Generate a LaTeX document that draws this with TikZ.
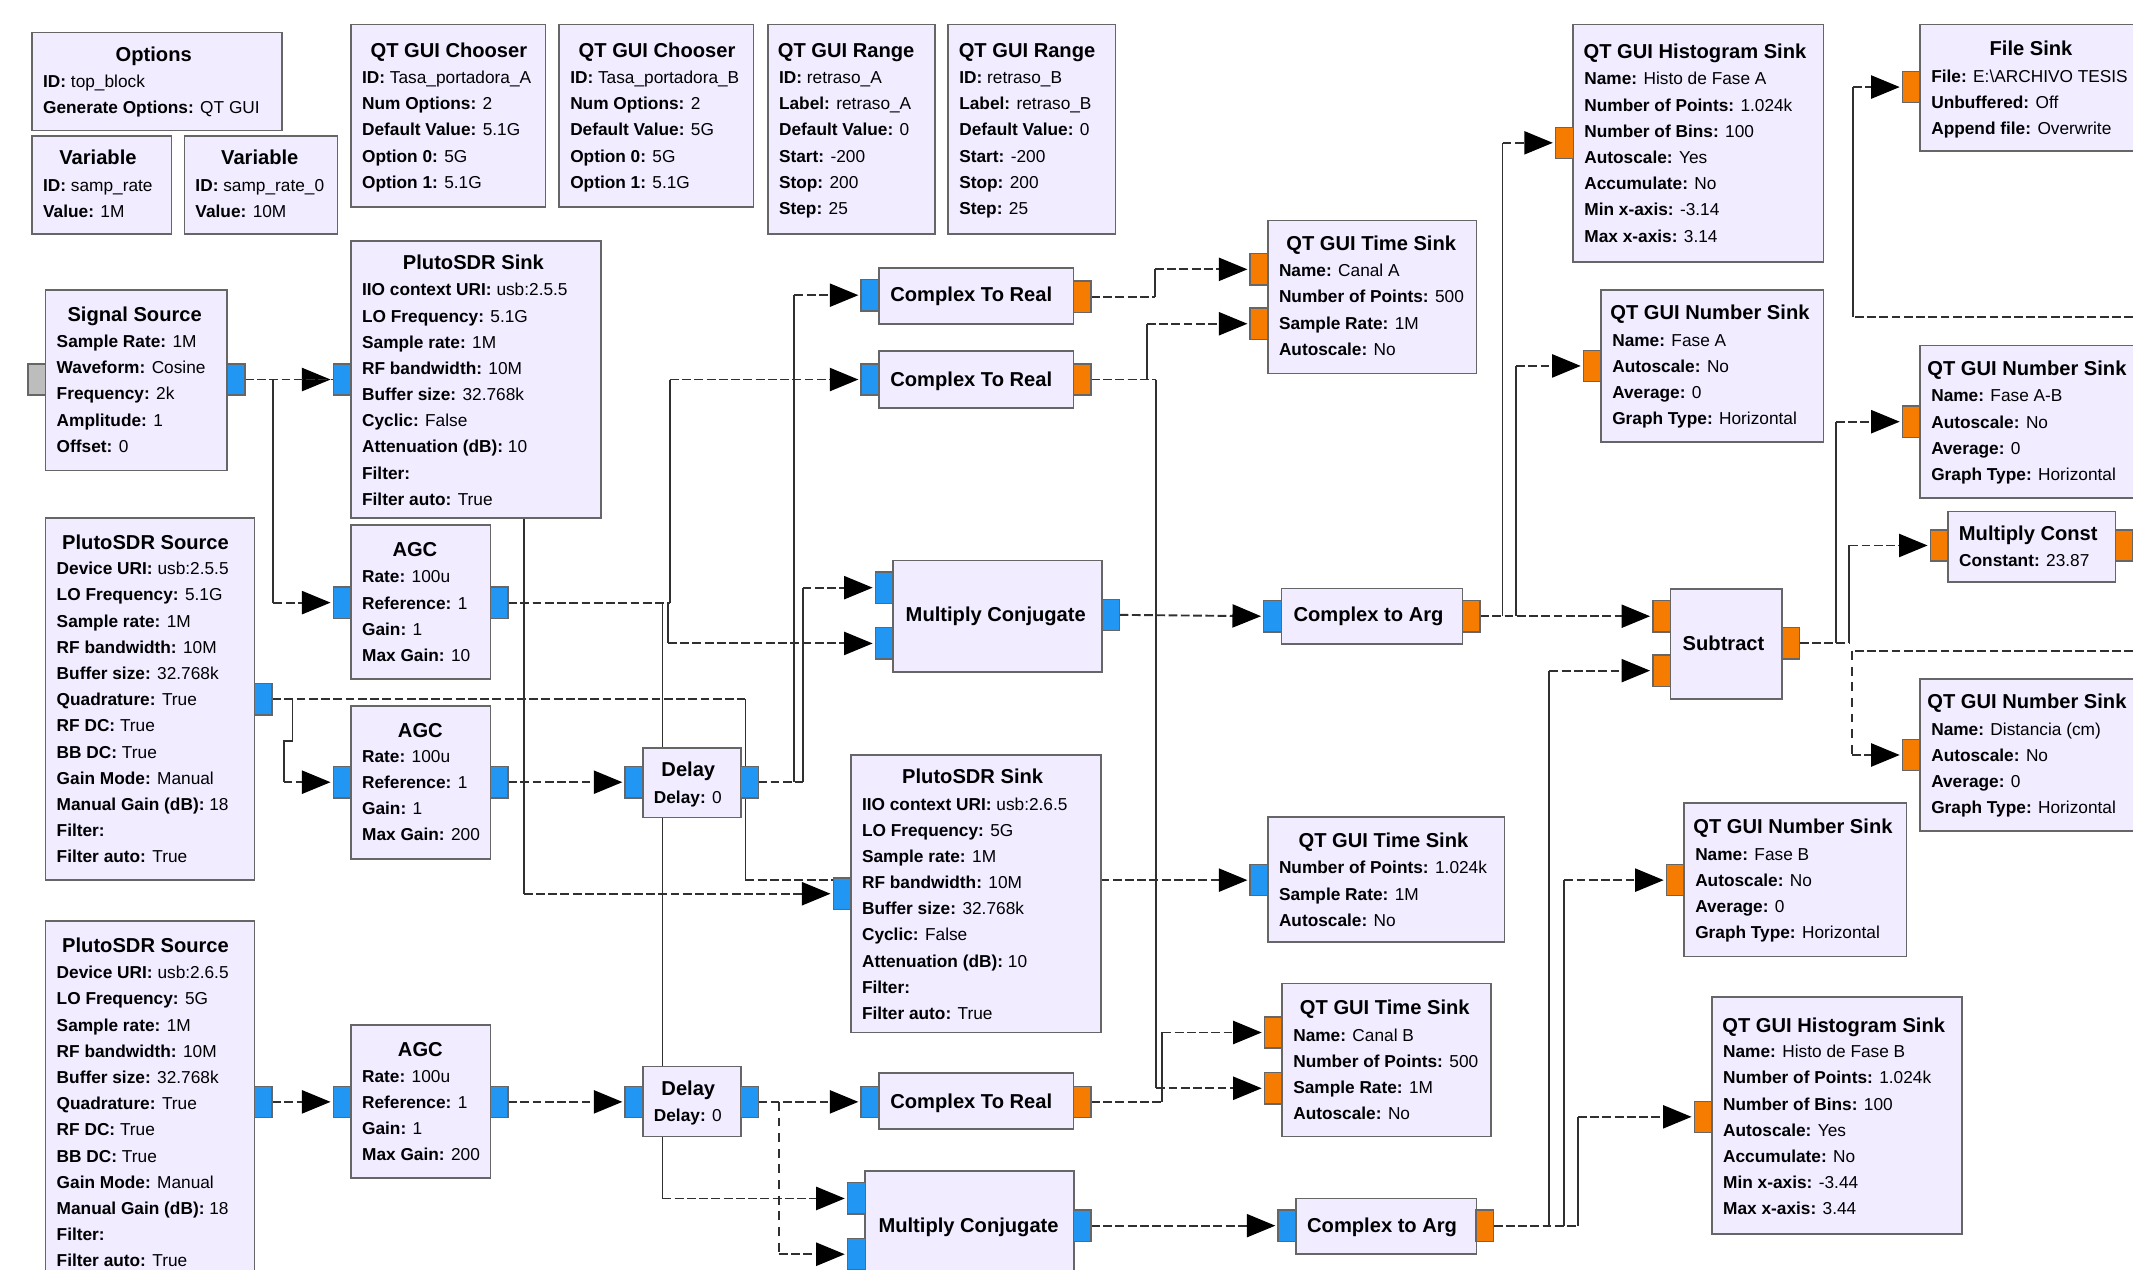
\documentclass[tikz,border=0pt]{standalone}
\usepackage{fontspec}
\setmainfont{Liberation Sans}
\usetikzlibrary{arrows.meta,backgrounds}
\definecolor{blockfill}{HTML}{F1ECFF}
\definecolor{edgegray}{HTML}{666666}
\definecolor{portblue}{HTML}{2196F3}
\definecolor{portorange}{HTML}{F57C00}
\definecolor{portgray}{HTML}{BDBDBD}
\definecolor{wirecol}{HTML}{303030}
\newcommand\bodyfont{\fontsize{12.7}{19.25}\selectfont}
\newcommand\titlefont{\fontsize{14.8}{17}\selectfont\bfseries}
\newcommand\kk[1]{\textbf{#1}}
\tikzset{
  x=1pt,y=-1pt,
  blockbox/.style={draw=edgegray,fill=blockfill,line width=1.2pt,anchor=north west,inner sep=0pt,outer sep=0pt},
  titletext/.style={anchor=base,inner sep=0pt,font=\titlefont},
  bodytext/.style={anchor=north west,inner sep=0pt,align=left,font=\bodyfont},
  portbox/.style={draw=edgegray,line width=1pt,minimum width=13pt,minimum height=23pt,inner sep=0pt,outer sep=0pt},
  bluep/.style={portbox,fill=portblue},
  orangep/.style={portbox,fill=portorange},
  grayp/.style={portbox,fill=portgray},
  hwire/.style={draw=wirecol,line width=1.4pt,dash pattern=on 6.5pt off 2.5pt},
  vwire/.style={draw=wirecol,line width=1.4pt},
  vdash/.style={draw=wirecol,line width=1.4pt,dash pattern=on 6.5pt off 5pt},
  tipped/.style={-{Triangle[length=21pt,width=17pt,color=black]},shorten >=2pt},
}
% block with title and body
\newcommand\blk[9]{%
  \node[blockbox,minimum width={(#4-#2)*1pt},minimum height={(#5-#3)*1pt}] (#1) at (#2,#3) {};
  \node[titletext] (#1-t) at (#6,#7+5) {#8};
  \blkbody{#1}{#2}#9}
\newcommand\blkbody[4]{\node[bodytext] (#1-b) at (#2+8,#3-9.2) {\strut #4};}
% wires
\newcommand\wire[3]{%
  \draw[hwire] (#1.east) -- (#1.east -| #2);
  \draw[vwire] (#1.east -| #2) -- (#3.west -| #2);
  \draw[hwire,tipped] (#3.west -| #2) -- (#3.west);}
\newcommand\straightw[2]{\draw[hwire,tipped] (#1.east) -- (#2.west);}
\begin{document}
\begin{tikzpicture}
\clip (0,0) rectangle (1568,932.9);
% ---- top row
\blk{opt}{23.5}{24}{207.5}{96}{113}{40}{Options}{{60}{\kk{ID:} top\_block\\\kk{Generate Options:} QT GUI}}
\blk{var1}{23.5}{100}{126}{172}{72}{116}{Variable}{{136}{\kk{ID:} samp\_rate\\\kk{Value:} 1M}}
\blk{var2}{135.5}{100}{248}{172}{191}{116}{Variable}{{136}{\kk{ID:} samp\_rate\_0\\\kk{Value:} 10M}}
\blk{ch1}{258}{18}{401}{152}{330}{37}{QT GUI Chooser}{{57}{\kk{ID:} Tasa\_portadora\_A\\\kk{Num Options:} 2\\\kk{Default Value:} 5.1G\\\kk{Option 0:} 5G\\\kk{Option 1:} 5.1G}}
\blk{ch2}{411}{18}{554}{152}{483}{37}{QT GUI Chooser}{{57}{\kk{ID:} Tasa\_portadora\_B\\\kk{Num Options:} 2\\\kk{Default Value:} 5G\\\kk{Option 0:} 5G\\\kk{Option 1:} 5.1G}}
\blk{rg1}{564.5}{18}{687.5}{172}{622}{37}{QT GUI Range}{{57}{\kk{ID:} retraso\_A\\\kk{Label:} retraso\_A\\\kk{Default Value:} 0\\\kk{Start:} -200\\\kk{Stop:} 200\\\kk{Step:} 25}}
\blk{rg2}{697}{18}{820}{172}{755}{37}{QT GUI Range}{{57}{\kk{ID:} retraso\_B\\\kk{Label:} retraso\_B\\\kk{Default Value:} 0\\\kk{Start:} -200\\\kk{Stop:} 200\\\kk{Step:} 25}}
% ---- left column
\blk{sig}{33.5}{213}{167}{346}{99}{231}{Signal Source}{{251}{\kk{Sample Rate:} 1M\\\kk{Waveform:} Cosine\\\kk{Frequency:} 2k\\\kk{Amplitude:} 1\\\kk{Offset:} 0}}
\node[grayp] (sig-m) at (27,279) {};
\node[bluep] (sig-o) at (173.5,279) {};
\blk{srcA}{33.5}{381}{187}{647}{107}{399}{PlutoSDR Source}{{418}{\kk{Device URI:} usb:2.5.5\\\kk{LO Frequency:} 5.1G\\\kk{Sample rate:} 1M\\\kk{RF bandwidth:} 10M\\\kk{Buffer size:} 32.768k\\\kk{Quadrature:} True\\\kk{RF DC:} True\\\kk{BB DC:} True\\\kk{Gain Mode:} Manual\\\kk{Manual Gain (dB):} 18\\\kk{Filter:}\\\kk{Filter auto:} True}}
\node[bluep] (srcA-o) at (193.5,514) {};
\blk{srcB}{33.5}{677}{187}{950}{107}{695}{PlutoSDR Source}{{715}{\kk{Device URI:} usb:2.6.5\\\kk{LO Frequency:} 5G\\\kk{Sample rate:} 1M\\\kk{RF bandwidth:} 10M\\\kk{Buffer size:} 32.768k\\\kk{Quadrature:} True\\\kk{RF DC:} True\\\kk{BB DC:} True\\\kk{Gain Mode:} Manual\\\kk{Manual Gain (dB):} 18\\\kk{Filter:}\\\kk{Filter auto:} True}}
\node[bluep] (srcB-o) at (193.5,810) {};
% ---- second column
\blk{snkA}{258}{177}{442}{381}{348}{193}{PlutoSDR Sink}{{213}{\kk{IIO context URI:} usb:2.5.5\\\kk{LO Frequency:} 5.1G\\\kk{Sample rate:} 1M\\\kk{RF bandwidth:} 10M\\\kk{Buffer size:} 32.768k\\\kk{Cyclic:} False\\\kk{Attenuation (dB):} 10\\\kk{Filter:}\\\kk{Filter auto:} True}}
\node[bluep] (snkA-i) at (251.5,279) {};
\blk{agc1}{258}{386}{360.5}{499}{305}{404}{AGC}{{424}{\kk{Rate:} 100u\\\kk{Reference:} 1\\\kk{Gain:} 1\\\kk{Max Gain:} 10}}
\node[bluep] (agc1-i) at (251.5,443) {};
\node[bluep] (agc1-o) at (367,443) {};
\blk{agc2}{258}{519}{360.5}{631.5}{309}{537}{AGC}{{556}{\kk{Rate:} 100u\\\kk{Reference:} 1\\\kk{Gain:} 1\\\kk{Max Gain:} 200}}
\node[bluep] (agc2-i) at (251.5,575) {};
\node[bluep] (agc2-o) at (367,575) {};
\blk{agc3}{258}{753.5}{360.5}{866}{309}{772}{AGC}{{791}{\kk{Rate:} 100u\\\kk{Reference:} 1\\\kk{Gain:} 1\\\kk{Max Gain:} 200}}
\node[bluep] (agc3-i) at (251.5,810) {};
\node[bluep] (agc3-o) at (367,810) {};
% ---- delays
\blk{dl1}{472.5}{550}{544.5}{601}{506}{566}{Delay}{{586}{\kk{Delay:} 0}}
\node[bluep] (dl1-i) at (466,575) {};
\node[bluep] (dl1-o) at (551,575) {};
\blk{dl2}{472.5}{784}{544.5}{835.5}{506}{800}{Delay}{{820}{\kk{Delay:} 0}}
\node[bluep] (dl2-i) at (466,810) {};
\node[bluep] (dl2-o) at (551,810) {};
% ---- complex to real, multiply conjugate
\node[blockbox,minimum width=143pt,minimum height=41pt] (c2r1) at (646,197) {};
\node[titletext] (c2r1-t) at (714,222) {Complex To Real};
\node[bluep] (c2r1-i) at (639.5,217) {};
\node[orangep] (c2r1-o) at (795.5,218) {};
\node[blockbox,minimum width=143pt,minimum height=42pt] (c2r2) at (646,258) {};
\node[titletext] (c2r2-t) at (714,284) {Complex To Real};
\node[bluep] (c2r2-i) at (639.5,279) {};
\node[orangep] (c2r2-o) at (795.5,279) {};
\node[blockbox,minimum width=143pt,minimum height=41pt] (c2r3) at (646,789) {};
\node[titletext] (c2r3-t) at (714,815) {Complex To Real};
\node[bluep] (c2r3-i) at (639.5,810) {};
\node[orangep] (c2r3-o) at (795.5,810) {};
\node[blockbox,minimum width=153.5pt,minimum height=82pt] (mcA) at (656.5,412) {};
\node[titletext] (mcA-t) at (732,457) {Multiply Conjugate};
\node[bluep] (mcA-i1) at (650,432) {};
\node[bluep] (mcA-i2) at (650,473) {};
\node[bluep] (mcA-o) at (816.5,452) {};
\node[blockbox,minimum width=153.5pt,minimum height=82pt] (mcB) at (636,861) {};
\node[titletext] (mcB-t) at (712,906) {Multiply Conjugate};
\node[bluep] (mcB-i1) at (629.5,881) {};
\node[bluep] (mcB-i2) at (629.5,922) {};
\node[bluep] (mcB-o) at (795.5,901) {};
% ---- plutosdr sink B
\blk{snkB}{625.5}{555}{809.5}{759}{715}{571}{PlutoSDR Sink}{{591}{\kk{IIO context URI:} usb:2.6.5\\\kk{LO Frequency:} 5G\\\kk{Sample rate:} 1M\\\kk{RF bandwidth:} 10M\\\kk{Buffer size:} 32.768k\\\kk{Cyclic:} False\\\kk{Attenuation (dB):} 10\\\kk{Filter:}\\\kk{Filter auto:} True}}
\node[bluep] (snkB-i) at (619,657) {};
% ---- time sinks
\blk{tsA}{932}{162}{1085.5}{274.5}{1008}{179}{QT GUI Time Sink}{{199}{\kk{Name:} Canal A\\\kk{Number of Points:} 500\\\kk{Sample Rate:} 1M\\\kk{Autoscale:} No}}
\node[orangep] (tsA-i1) at (925.5,198) {};
\node[orangep] (tsA-i2) at (925.5,238) {};
\blk{tsC}{932}{600.5}{1106}{692.5}{1017}{618}{QT GUI Time Sink}{{638}{\kk{Number of Points:} 1.024k\\\kk{Sample Rate:} 1M\\\kk{Autoscale:} No}}
\node[bluep] (tsC-i) at (925.5,647) {};
\blk{tsB}{942.5}{723}{1096}{835.5}{1018}{741}{QT GUI Time Sink}{{761}{\kk{Name:} Canal B\\\kk{Number of Points:} 500\\\kk{Sample Rate:} 1M\\\kk{Autoscale:} No}}
\node[orangep] (tsB-i1) at (936,759) {};
\node[orangep] (tsB-i2) at (936,800) {};
% ---- complex to arg
\node[blockbox,minimum width=133pt,minimum height=41pt] (c2aA) at (942,432.5) {};
\node[titletext] (c2aA-t) at (1006,457) {Complex to Arg};
\node[bluep] (c2aA-i) at (935.5,453) {};
\node[orangep] (c2aA-o) at (1081.5,453) {};
\node[blockbox,minimum width=133pt,minimum height=41pt] (c2aB) at (952.5,881) {};
\node[titletext] (c2aB-t) at (1016,906) {Complex to Arg};
\node[bluep] (c2aB-i) at (946,901) {};
\node[orangep] (c2aB-o) at (1091.5,901) {};
% ---- right part
\blk{hiA}{1156.5}{18}{1340.5}{192.5}{1246}{38}{QT GUI Histogram Sink}{{58}{\kk{Name:} Histo de Fase A\\\kk{Number of Points:} 1.024k\\\kk{Number of Bins:} 100\\\kk{Autoscale:} Yes\\\kk{Accumulate:} No\\\kk{Min x-axis:} -3.14\\\kk{Max x-axis:} 3.14}}
\node[orangep] (hiA-i) at (1150,105) {};
\blk{nsA}{1177}{213}{1340.5}{325}{1257}{230}{QT GUI Number Sink}{{250}{\kk{Name:} Fase A\\\kk{Autoscale:} No\\\kk{Average:} 0\\\kk{Graph Type:} Horizontal}}
\node[orangep] (nsA-i) at (1170.5,269) {};
\blk{file}{1411.5}{18}{1600}{111}{1493}{36}{File Sink}{{56}{\kk{File:} E:\textbackslash ARCHIVO TESIS\\\kk{Unbuffered:} Off\\\kk{Append file:} Overwrite}}
\node[orangep] (file-i) at (1405,64) {};
\blk{nsAB}{1411.5}{254}{1600}{366}{1490}{271}{QT GUI Number Sink}{{291}{\kk{Name:} Fase A-B\\\kk{Autoscale:} No\\\kk{Average:} 0\\\kk{Graph Type:} Horizontal}}
\node[orangep] (nsAB-i) at (1405,310) {};
\blk{mul}{1432}{376}{1555}{428}{1491}{392}{Multiply Const}{{412}{\kk{Constant:} 23.87}}
\node[orangep] (mul-i) at (1425.5,401) {};
\node[orangep] (mul-o) at (1561.5,401) {};
\node[blockbox,minimum width=82pt,minimum height=81pt] (sub) at (1228,433) {};
\node[titletext] (sub-t) at (1267,478) {Subtract};
\node[orangep] (sub-i1) at (1221.5,453) {};
\node[orangep] (sub-i2) at (1221.5,493) {};
\node[orangep] (sub-o) at (1316.5,473) {};
\blk{nsD}{1411.5}{499}{1600}{611}{1490}{516}{QT GUI Number Sink}{{536}{\kk{Name:} Distancia (cm)\\\kk{Autoscale:} No\\\kk{Average:} 0\\\kk{Graph Type:} Horizontal}}
\node[orangep] (nsD-i) at (1405,555) {};
\blk{nsB}{1238}{590.5}{1401.5}{703}{1318}{608}{QT GUI Number Sink}{{628}{\kk{Name:} Fase B\\\kk{Autoscale:} No\\\kk{Average:} 0\\\kk{Graph Type:} Horizontal}}
\node[orangep] (nsB-i) at (1231.5,647) {};
\blk{hiB}{1258.5}{733}{1442.5}{907}{1348}{754}{QT GUI Histogram Sink}{{773}{\kk{Name:} Histo de Fase B\\\kk{Number of Points:} 1.024k\\\kk{Number of Bins:} 100\\\kk{Autoscale:} Yes\\\kk{Accumulate:} No\\\kk{Min x-axis:} -3.44\\\kk{Max x-axis:} 3.44}}
\node[orangep] (hiB-i) at (1252,821) {};
% ---- junction columns and free ends
\coordinate (j201) at (201,0);
\coordinate (j385) at (385,0);
\coordinate (j215) at (215,0);
\coordinate (j208) at (208.5,0);
\coordinate (kink) at (215,545);
\coordinate (j487) at (487,0);
\coordinate (j491) at (491,0);
\coordinate (j492) at (492.5,0);
\coordinate (j548) at (548,0);
\coordinate (j572) at (572.5,0);
\coordinate (j584) at (584,0);
\coordinate (j590) at (590,0);
\coordinate (j843) at (843,0);
\coordinate (j849) at (849,0);
\coordinate (j850) at (850,0);
\coordinate (j854) at (854.5,0);
\coordinate (j1104) at (1104.5,0);
\coordinate (j1114) at (1114.5,0);
\coordinate (j1139) at (1139,0);
\coordinate (j1150) at (1150,0);
\coordinate (j1160) at (1160,0);
\coordinate (j1349) at (1349.5,0);
\coordinate (j1359) at (1359.5,0);
\coordinate (edgeA) at (1568,233);
\coordinate (edgeB) at (1568,478.6);
\coordinate (cornerA) at (1362,233);
\coordinate (cornerB) at (1361.5,478.6);
\begin{scope}[on background layer]
\straightw{sig-o}{snkA-i}
\wire{sig-o}{j201}{agc1-i}
\draw[hwire] (sig-o.east) -- (sig-o.east -| j385);
\draw[vwire] (sig-o.east -| j385) -- (snkB-i.west -| j385);
\draw[hwire,tipped] (snkB-i.west -| j385) -- (snkB-i.west);
\wire{agc1-o}{j492}{c2r2-i}
\wire{agc1-o}{j491}{mcA-i2}
\wire{agc1-o}{j487}{mcB-i1}
% pluto source A
\draw[hwire] (srcA-o.east) -- (srcA-o.east -| j548);
\draw[vwire] (srcA-o.east -| j548) -- (tsC-i.west -| j548);
\draw[hwire,tipped] (tsC-i.west -| j548) -- (tsC-i.west);
\draw[vwire] (srcA-o.east -| j215) -- (kink) -- (kink -| j208) -- (agc2-i.west -| j208);
\draw[hwire,tipped] (agc2-i.west -| j208) -- (agc2-i.west);
\straightw{agc2-o}{dl1-i}
\wire{dl1-o}{j584}{c2r1-i}
\wire{dl1-o}{j590}{mcA-i1}
\wire{c2r1-o}{j849}{tsA-i1}
\wire{c2r2-o}{j843}{tsA-i2}
\wire{c2r2-o}{j850}{tsB-i2}
\straightw{mcA-o}{c2aA-i}
\wire{c2aA-o}{j1104}{hiA-i}
\wire{c2aA-o}{j1114}{nsA-i}
\straightw{c2aA-o}{sub-i1}
\wire{sub-o}{j1349}{nsAB-i}
\wire{sub-o}{j1359}{mul-i}
\draw[hwire] (edgeB) -- (cornerB);
\draw[vdash] (cornerB) -- (nsD-i.west -| cornerB);
\draw[hwire,tipped] (nsD-i.west -| cornerB) -- (nsD-i.west);
\draw[hwire] (edgeA) -- (cornerA);
\draw[vwire] (cornerA) -- (file-i.west -| cornerA);
\draw[hwire,tipped] (file-i.west -| cornerA) -- (file-i.west);
% pluto source B
\straightw{srcB-o}{agc3-i}
\straightw{agc3-o}{dl2-i}
\straightw{dl2-o}{c2r3-i}
\draw[vdash] (dl2-o.east -| j572) -- (mcB-i2.west -| j572);
\draw[hwire,tipped] (mcB-i2.west -| j572) -- (mcB-i2.west);
\wire{c2r3-o}{j854}{tsB-i1}
\straightw{mcB-o}{c2aB-i}
\wire{c2aB-o}{j1139}{sub-i2}
\wire{c2aB-o}{j1150}{nsB-i}
\wire{c2aB-o}{j1160}{hiB-i}
\end{scope}
\end{tikzpicture}
\end{document}
